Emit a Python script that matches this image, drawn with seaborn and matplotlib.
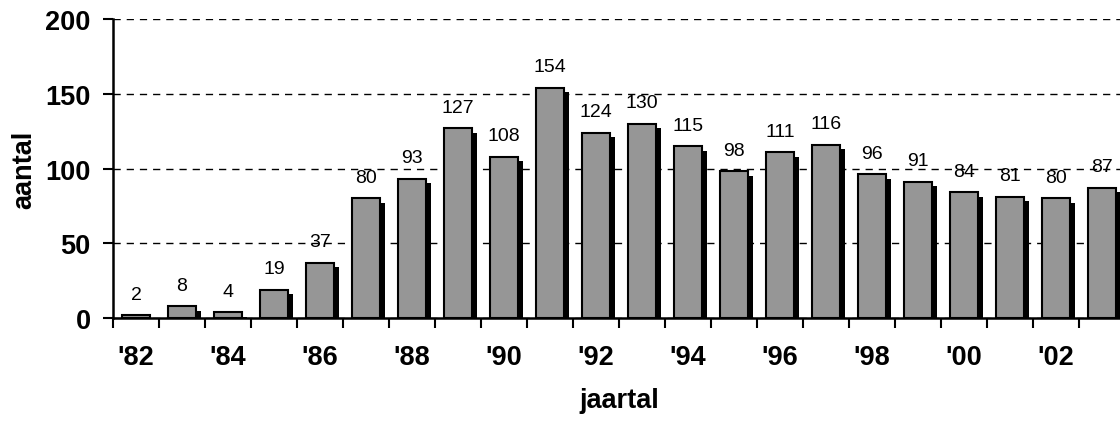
import matplotlib
matplotlib.use("Agg")
import matplotlib.pyplot as plt
import matplotlib.transforms as mtransforms
import seaborn as sns
import pandas as pd

# Yearly counts 1982-2003
years = ["'82", "'83", "'84", "'85", "'86", "'87", "'88", "'89", "'90", "'91", "'92",
         "'93", "'94", "'95", "'96", "'97", "'98", "'99", "'00", "'01", "'02", "'03"]
counts = [2, 8, 4, 19, 37, 80, 93, 127, 108, 154, 124,
          130, 115, 98, 111, 116, 96, 91, 84, 81, 80, 87]
y_ticks = [0, 50, 100, 150, 200]

df = pd.DataFrame({"jaar": years, "aantal": counts})

sns.set_theme(style="white")
plt.rcParams["font.family"] = ["Liberation Sans", "DejaVu Sans"]
plt.rcParams.update({"text.color": "black", "axes.labelcolor": "black",
                     "xtick.color": "black", "ytick.color": "black"})

fig = plt.figure(figsize=(11.2, 4.27), dpi=100)
ax = fig.add_axes([113 / 1120, 108 / 427, (1125 - 113) / 1120, 299 / 427])

BAR_W = 0.62

# drop shadow: black bars shifted right and down
sns.barplot(data=df, x="jaar", y="aantal", order=years, color="black",
            saturation=1, width=BAR_W, ax=ax, zorder=2)
shift = mtransforms.ScaledTranslation(4.5 / 100, -4.5 / 100, fig.dpi_scale_trans)
for p in ax.patches:
    p.set_transform(ax.transData + shift)
    p.set_linewidth(0)

# main grey bars
sns.barplot(data=df, x="jaar", y="aantal", order=years, color="#969696",
            saturation=1, width=BAR_W, edgecolor="black", linewidth=1.5,
            ax=ax, zorder=3)
main = ax.containers[-1]
ax.bar_label(main, labels=[str(v) for v in counts], padding=9, fontsize=14,
             color="black")

ax.set_xlim(-0.5, len(years) - 0.5)
ax.set_ylim(0, 200)
ax.set_yticks(y_ticks)
ax.set_yticklabels([str(t) for t in y_ticks], fontsize=19.5, fontweight="bold")

# year labels every second year, tick marks between bars
ax.set_xticks(range(0, len(years), 2))
ax.set_xticklabels(years[::2], fontsize=19.5, fontweight="bold")
ax.set_xticks([i - 0.5 for i in range(len(years) + 1)], minor=True)
ax.tick_params(axis="x", which="major", length=0, pad=19)
ax.tick_params(axis="x", which="minor", length=7, width=1.5, direction="out",
               color="black", bottom=True)
ax.tick_params(axis="y", length=7, width=1.5, direction="out", color="black",
               left=True, pad=9)

ax.yaxis.grid(True, linestyle=(0, (5.2, 4.3)), color="black", linewidth=1)
ax.xaxis.grid(False)
ax.set_axisbelow(True)

for side in ["top", "right"]:
    ax.spines[side].set_visible(False)
for side in ["left", "bottom"]:
    ax.spines[side].set_color("black")
    ax.spines[side].set_linewidth(1.8)
    ax.spines[side].set_zorder(5)

ax.set_xlabel("jaartal", fontsize=19.5, fontweight="bold", labelpad=12)
ax.set_ylabel("aantal", fontsize=19.5, fontweight="bold", labelpad=6)

fig.savefig("out.png", dpi=100)
